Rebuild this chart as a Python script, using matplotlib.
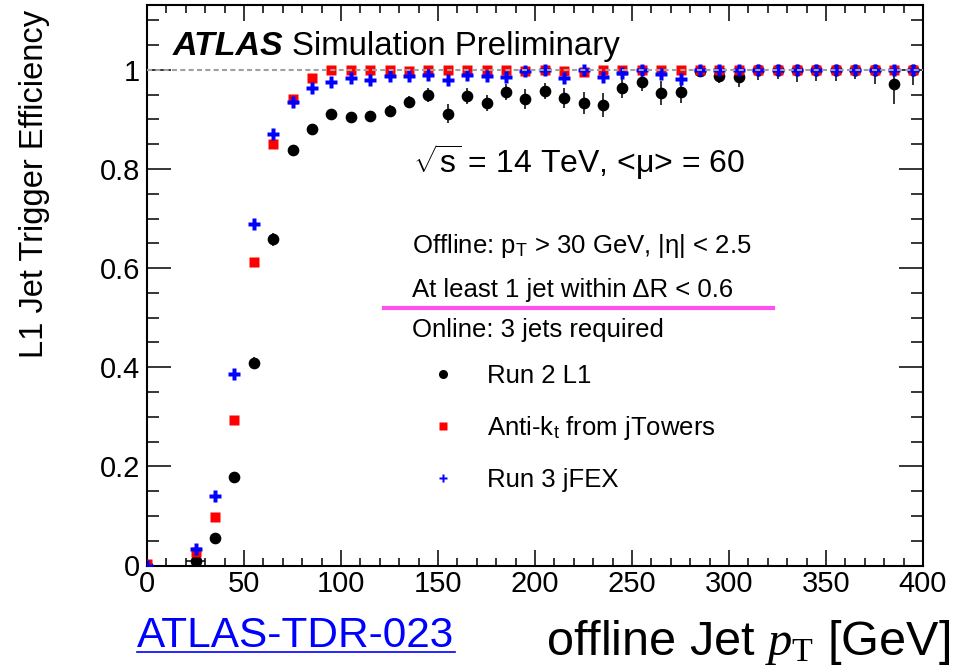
import numpy as np
import matplotlib
matplotlib.use("Agg")
import matplotlib.pyplot as plt
from matplotlib.lines import Line2D
from matplotlib.ticker import MultipleLocator, FuncFormatter

plt.rcParams['font.family'] = ['Liberation Sans', 'DejaVu Sans']
plt.rcParams['mathtext.fontset'] = 'custom'
plt.rcParams['mathtext.rm'] = 'Liberation Serif'
plt.rcParams['mathtext.it'] = 'Liberation Serif:italic'
plt.rcParams['mathtext.sf'] = 'Liberation Sans'

# offline jet pT bin centres [GeV]
pt = [0, 25, 35, 45, 55, 65, 75, 85, 95, 105, 115, 125, 135, 145, 155, 165,
      175, 185, 195, 205, 215, 225, 235, 245, 255, 265, 275, 285, 295, 305,
      315, 325, 335, 345, 355, 365, 375, 385, 395]

# Run 2 L1
eff_run2 = [0.0, 0.010, 0.056, 0.179, 0.409, 0.658, 0.838, 0.881, 0.912, 0.904,
            0.908, 0.918, 0.935, 0.950, 0.912, 0.947, 0.933, 0.956, 0.942, 0.957,
            0.944, 0.933, 0.929, 0.963, 0.975, 0.954, 0.956, 0.998, 0.987, 0.985,
            1.0, 1.0, 1.0, 1.0, 1.0, 1.0, 1.0, 0.971, 1.0]
err_run2 = [0.0, 0.004, 0.006, 0.008, 0.012, 0.013, 0.010, 0.010, 0.010, 0.010,
            0.010, 0.012, 0.012, 0.014, 0.020, 0.016, 0.016, 0.016, 0.020, 0.016,
            0.020, 0.022, 0.024, 0.020, 0.018, 0.024, 0.022, 0.012, 0.014, 0.020,
            0.020, 0.018, 0.024, 0.022, 0.022, 0.018, 0.028, 0.040, 0.030]

# Anti-kt from jTowers
eff_jtow = [0.003, 0.027, 0.097, 0.294, 0.612, 0.851, 0.941, 0.983, 0.999, 1.0,
            1.0, 1.0, 0.998, 1.0, 1.0, 1.0, 1.0, 1.0, 0.997, 1.0,
            0.998, 0.996, 1.0, 1.0, 1.0, 1.0, 1.0, 1.0, 1.0, 1.0,
            1.0, 1.0, 1.0, 1.0, 1.0, 1.0, 1.0, 1.0, 1.0]

# Run 3 jFEX
eff_jfex = [0.0, 0.034, 0.141, 0.386, 0.689, 0.871, 0.936, 0.964, 0.975, 0.983,
            0.980, 0.988, 0.988, 0.990, 0.980, 0.989, 0.987, 0.986, 0.997, 1.0,
            0.983, 0.999, 0.986, 0.993, 1.0, 0.991, 0.982, 1.0, 1.0, 1.0,
            1.0, 1.0, 1.0, 1.0, 1.0, 1.0, 1.0, 1.0, 1.0]

x_ticks = [0, 50, 100, 150, 200, 250, 300, 350, 400]

W, H = 966, 671
def fx(px):
    return px / W
def fy(py):
    return 1 - py / H

fig = plt.figure(figsize=(W / 100, H / 100), dpi=100)
ax = fig.add_axes([fx(147), fy(565.5), fx(923) - fx(147), fy(5) - fy(565.5)])

eff_run2 = np.array(eff_run2)
err_run2 = np.array(err_run2)
err_up = np.minimum(err_run2, 1 - eff_run2)
xerr = [5 if p == 25 else 0 for p in pt]

ax.errorbar(pt, eff_run2, yerr=[err_run2, err_up], xerr=xerr, fmt='o', color='black',
            ms=7.4, elinewidth=1.1, capsize=0, zorder=3)
ax.plot(pt, eff_jtow, 's', color='#ff0000', ms=7, mec='none', zorder=4)
ax.plot(pt, eff_jfex, 'P', color='#0000ff', ms=8.5, mec='none', zorder=5)
ax.axhline(1.0, color='#a0a0a0', lw=1.5, dashes=(2.4, 1.6), zorder=6)

ax.set_xlim(0, 400)
ax.set_ylim(0, 1.131)
ax.set_xticks(x_ticks)
ax.xaxis.set_minor_locator(MultipleLocator(10))
ax.yaxis.set_major_locator(MultipleLocator(0.2))
ax.yaxis.set_minor_locator(MultipleLocator(0.05))
ax.yaxis.set_major_formatter(FuncFormatter(lambda v, p: '%g' % round(v, 2)))
ax.tick_params(which='both', direction='in', top=True, right=True, width=1.1,
               labelsize=21)
ax.tick_params(axis='x', which='major', length=11.5, pad=3.3)
ax.tick_params(axis='x', which='minor', length=5.8)
ax.tick_params(axis='y', which='major', length=17, pad=5)
ax.tick_params(axis='y', which='minor', length=8.6)
for s in ax.spines.values():
    s.set_linewidth(1.5)

# labels
fig.text(fx(35), fy(184), 'L1 Jet Trigger Efficiency', rotation=90,
         ha='center', va='center', fontsize=23.5)
fig.text(fx(950), fy(655), r'offline Jet $p_{\mathrm{T}}$ [GeV]', ha='right',
         va='baseline', fontsize=35)
fig.text(fx(137), fy(647), 'ATLAS-TDR-023', ha='left', va='baseline',
         fontsize=30.5, color='blue')
fig.add_artist(Line2D([fx(137), fx(455)], [fy(652), fy(652)], color='blue', lw=1.2))

# ATLAS label and annotations
fig.text(fx(173), fy(55), 'ATLAS', fontsize=24.5, fontweight='bold',
         fontstyle='italic', va='baseline')
fig.text(fx(292), fy(55), 'Simulation Preliminary', fontsize=23.8, va='baseline')
fig.text(fx(413), fy(173), r'$\sqrt{\mathsf{s}}$ = 14 TeV, <μ> = 60',
         fontsize=23, va='baseline')
fig.text(fx(412), fy(253), r'Offline: p$_{\mathsf{T}}$ > 30 GeV, |η| < 2.5',
         fontsize=18.5, va='baseline')
fig.text(fx(412), fy(297), 'At least 1 jet within ΔR < 0.6', fontsize=18.5,
         va='baseline')
fig.add_artist(Line2D([fx(384), fx(773)], [fy(308), fy(308)], color='#ff50ee', lw=3))
fig.text(fx(412), fy(337), 'Online: 3 jets required', fontsize=18.5, va='baseline')

handles = [Line2D([], [], ls='none', marker='o', color='black', ms=5.5),
           Line2D([], [], ls='none', marker='s', color='#ff0000', ms=5.5, mec='none'),
           Line2D([], [], ls='none', marker='P', color='#0000ff', ms=6, mec='none')]
labels = ['Run 2 L1', r'Anti-k$_{\mathsf{t}}$ from jTowers', 'Run 3 jFEX']
fig.legend(handles, labels, loc='upper left', bbox_to_anchor=(fx(430), fy(364)),
           bbox_transform=fig.transFigure, frameon=False, fontsize=18.5,
           handlelength=1.0, handletextpad=1.2, labelspacing=1.02,
           borderpad=0, borderaxespad=0)

fig.savefig('out.png', dpi=100)
